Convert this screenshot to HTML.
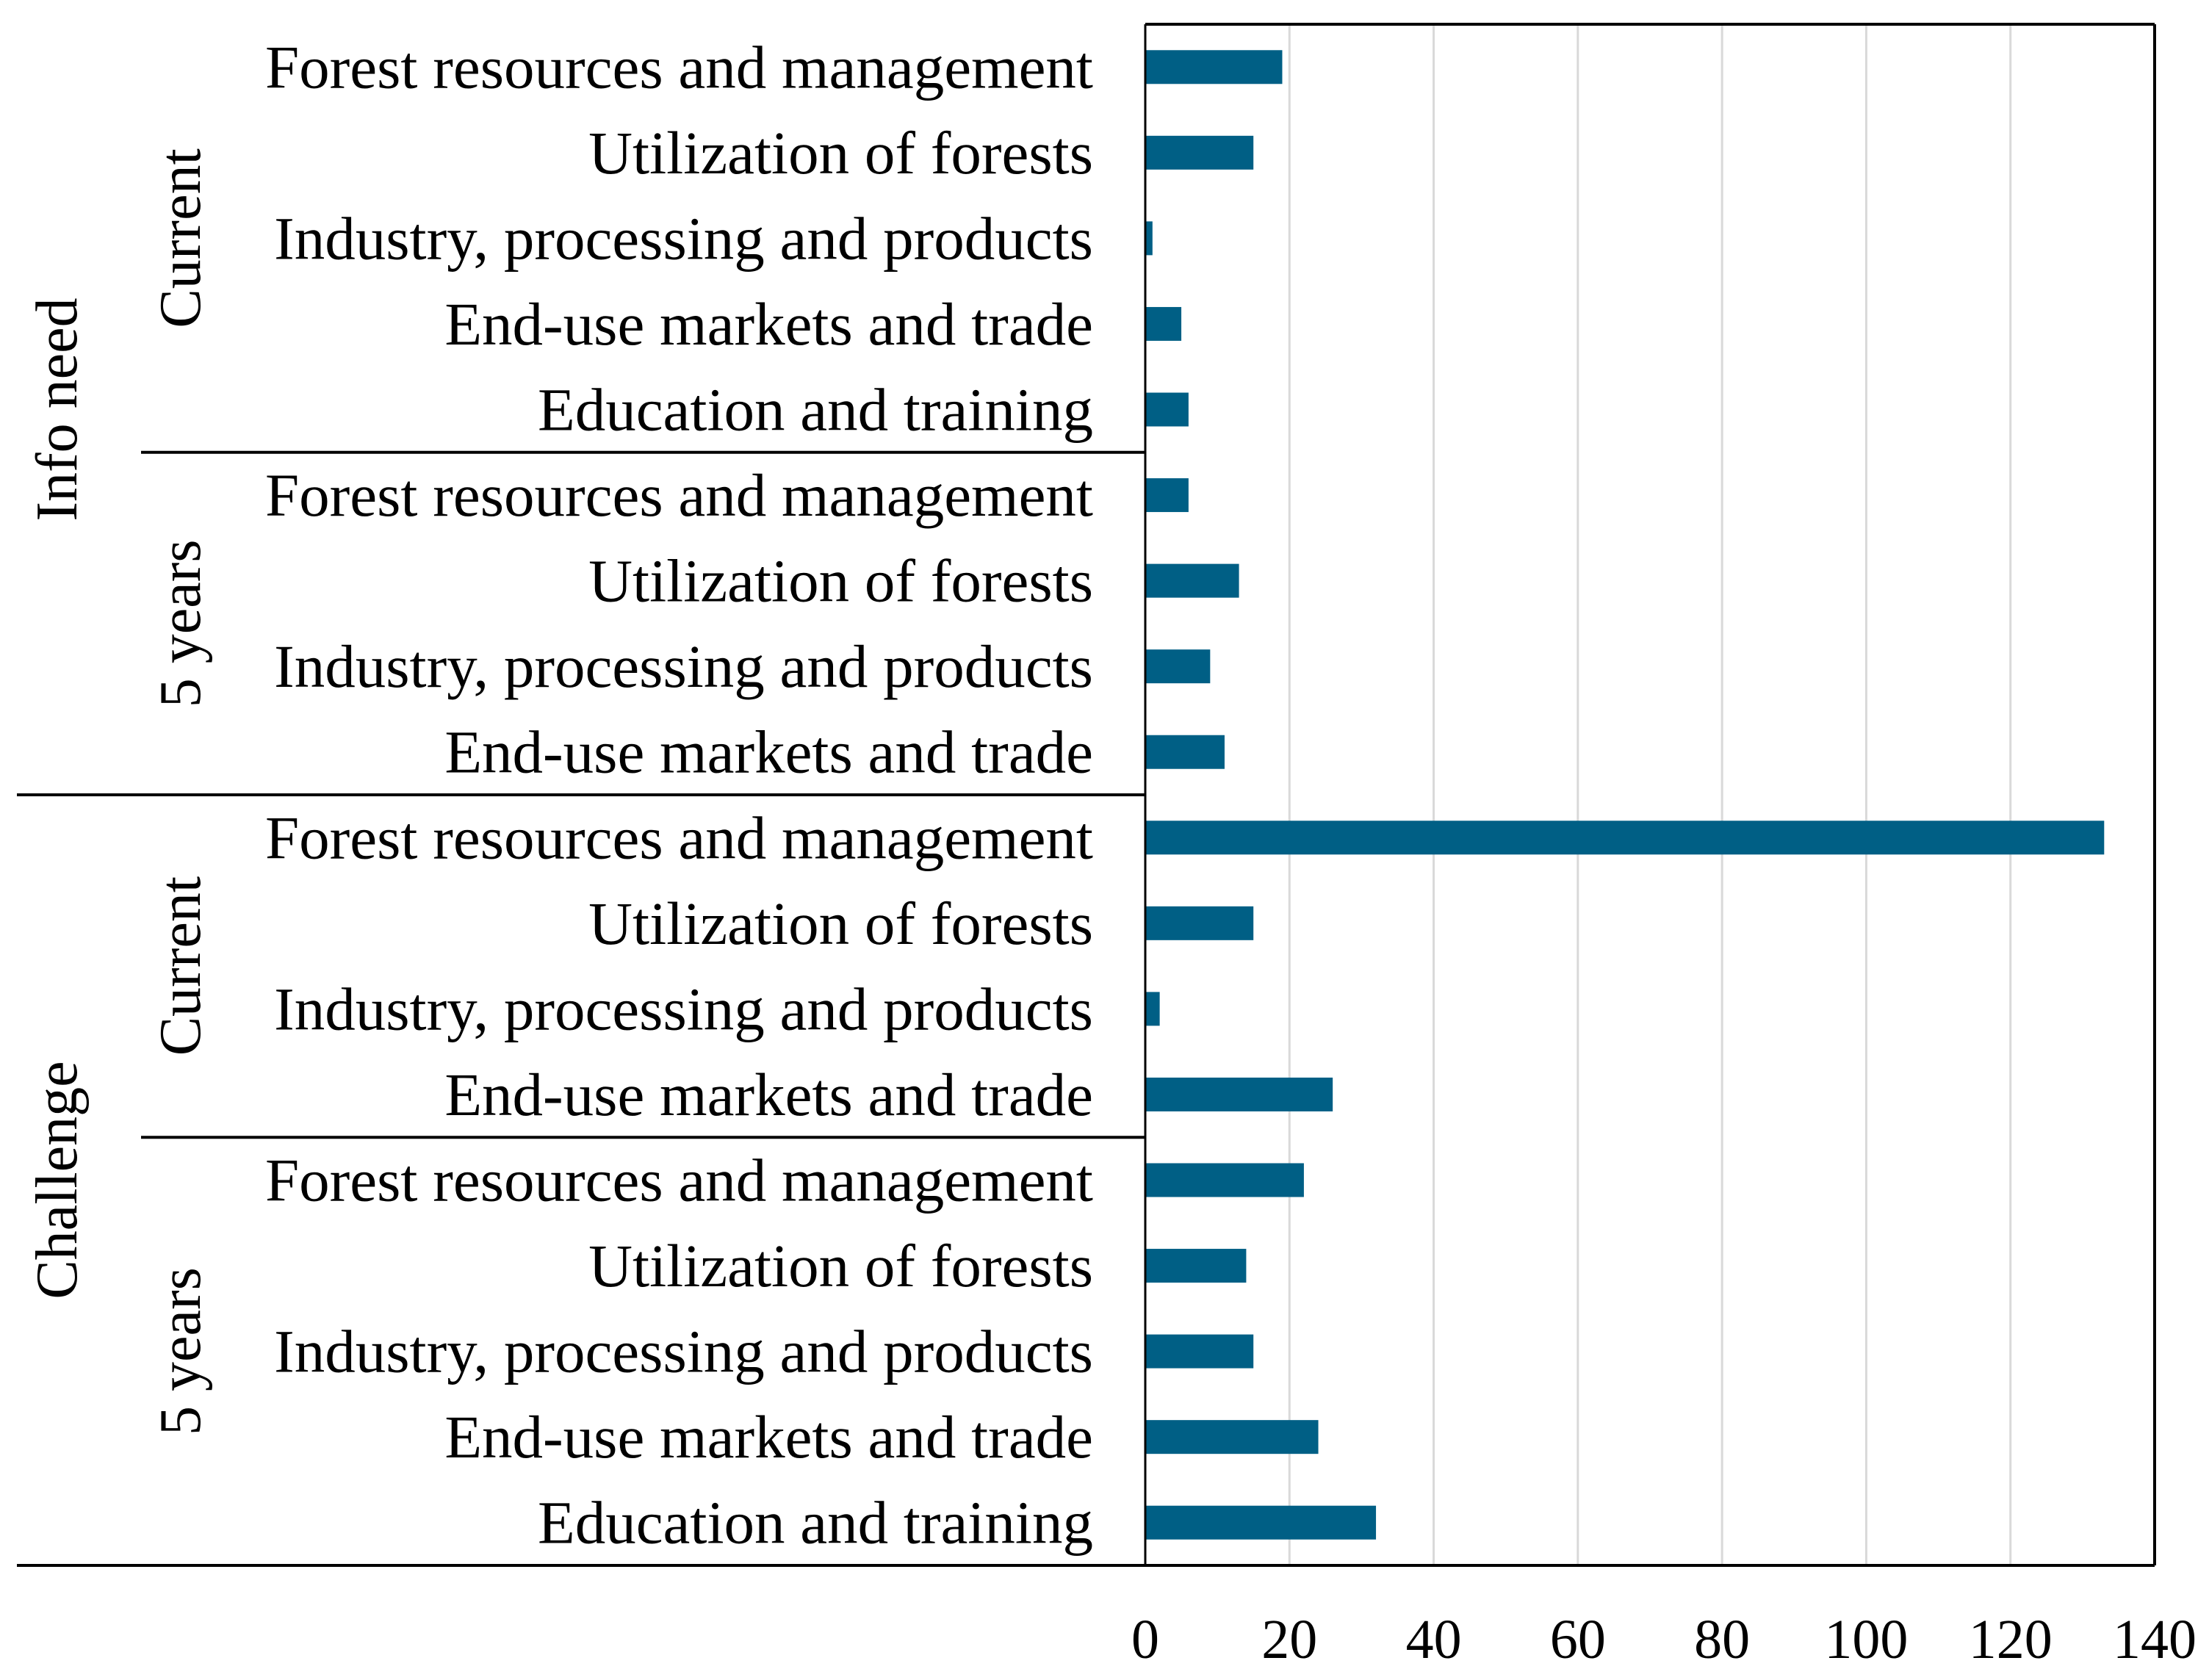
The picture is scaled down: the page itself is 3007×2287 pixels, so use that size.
<!DOCTYPE html>
<html><head><meta charset="utf-8"><style>html,body{margin:0;padding:0;background:#fff}svg{display:block}</style></head>
<body>
<svg id="chart" width="3007" height="2287" viewBox="0 0 3007 2287" xmlns="http://www.w3.org/2000/svg" font-family="'Liberation Serif', serif">
<g id="grid"></g>
<g id="bars"></g>
<g id="labels"></g>
<g id="ticks"></g>
<g id="frame"></g>
</svg>
<script>
const categories = ["Forest resources and management","Utilization of forests","Industry, processing and products","End-use markets and trade","Education and training",
"Forest resources and management","Utilization of forests","Industry, processing and products","End-use markets and trade",
"Forest resources and management","Utilization of forests","Industry, processing and products","End-use markets and trade",
"Forest resources and management","Utilization of forests","Industry, processing and products","End-use markets and trade","Education and training"];
const values = [19,15,1,5,6, 6,13,9,11, 133,15,2,26, 22,14,15,24,32];
const tickValues = [0,20,40,60,80,100,120,140];
const outerGroups = [{name:"Info need",start:0,end:9},{name:"Challenge",start:9,end:18}];
const innerGroups = [{name:"Current",start:0,end:5},{name:"5 years",start:5,end:9},{name:"Current",start:9,end:13},{name:"5 years",start:13,end:18}];

const NS="http://www.w3.org/2000/svg";
const x0=1559, x1=2933, plotTop=33, plotBottom=2131, xMax=140;
const rowH=(plotBottom-plotTop)/categories.length;
const xs=v=>x0+(v/xMax)*(x1-x0);
const yc=i=>plotTop+rowH*(i+0.5);
function mk(tag,attrs,parent){const e=document.createElementNS(NS,tag);for(const k in attrs)e.setAttribute(k,attrs[k]);parent.appendChild(e);return e;}
const grid=document.getElementById('grid'),bars=document.getElementById('bars'),labels=document.getElementById('labels'),ticks=document.getElementById('ticks'),frame=document.getElementById('frame');

tickValues.forEach(t=>{
  if(t>0&&t<xMax){const l=mk('line',{x1:xs(t),x2:xs(t),y1:plotTop,y2:plotBottom,stroke:'#d9d9d9','stroke-width':3},grid);
  
  }
  const tx=mk('text',{x:xs(t),y:2257,'font-size':76,'text-anchor':'middle'},ticks);
  tx.textContent=t;
  
  
});
values.forEach((v,i)=>{
  const r=mk('rect',{x:x0,y:yc(i)-23,width:xs(v)-x0,height:46,fill:'#005f85'},bars);
  
  
});
categories.forEach((c,i)=>{
  const t=mk('text',{x:1488,y:yc(i)+28,'font-size':83,'text-anchor':'end'},labels);
  t.textContent=c;
  
  
});
outerGroups.forEach(g=>{
  const cy=(plotTop+rowH*g.start+plotTop+rowH*g.end)/2;
  const t=mk('text',{x:0,y:0,'font-size':80,'text-anchor':'middle',transform:`translate(104,${cy}) rotate(-90)`},labels);
  t.textContent=g.name;
  
  
});
innerGroups.forEach(g=>{
  const cy=(plotTop+rowH*g.start+plotTop+rowH*g.end)/2;
  const t=mk('text',{x:0,y:0,'font-size':80,'text-anchor':'middle',transform:`translate(272,${cy}) rotate(-90)`},labels);
  t.textContent=g.name;
  
  
});
mk('line',{x1:x0,x2:x1,y1:plotTop,y2:plotTop,stroke:'#000','stroke-width':4},frame);
mk('line',{x1:x1,x2:x1,y1:plotTop,y2:plotBottom,stroke:'#000','stroke-width':4},frame);
mk('line',{x1:23,x2:x1,y1:plotBottom,y2:plotBottom,stroke:'#000','stroke-width':4},frame);
mk('line',{x1:x0,x2:x0,y1:plotTop,y2:plotBottom,stroke:'#000','stroke-width':3},frame);
outerGroups.slice(1).forEach(g=>{mk('line',{x1:23,x2:x0,y1:plotTop+rowH*g.start,y2:plotTop+rowH*g.start,stroke:'#000','stroke-width':4},frame);});
[5,13].forEach(k=>{mk('line',{x1:192,x2:x0,y1:plotTop+rowH*k,y2:plotTop+rowH*k,stroke:'#000','stroke-width':4},frame);});
</script>
</body></html>
